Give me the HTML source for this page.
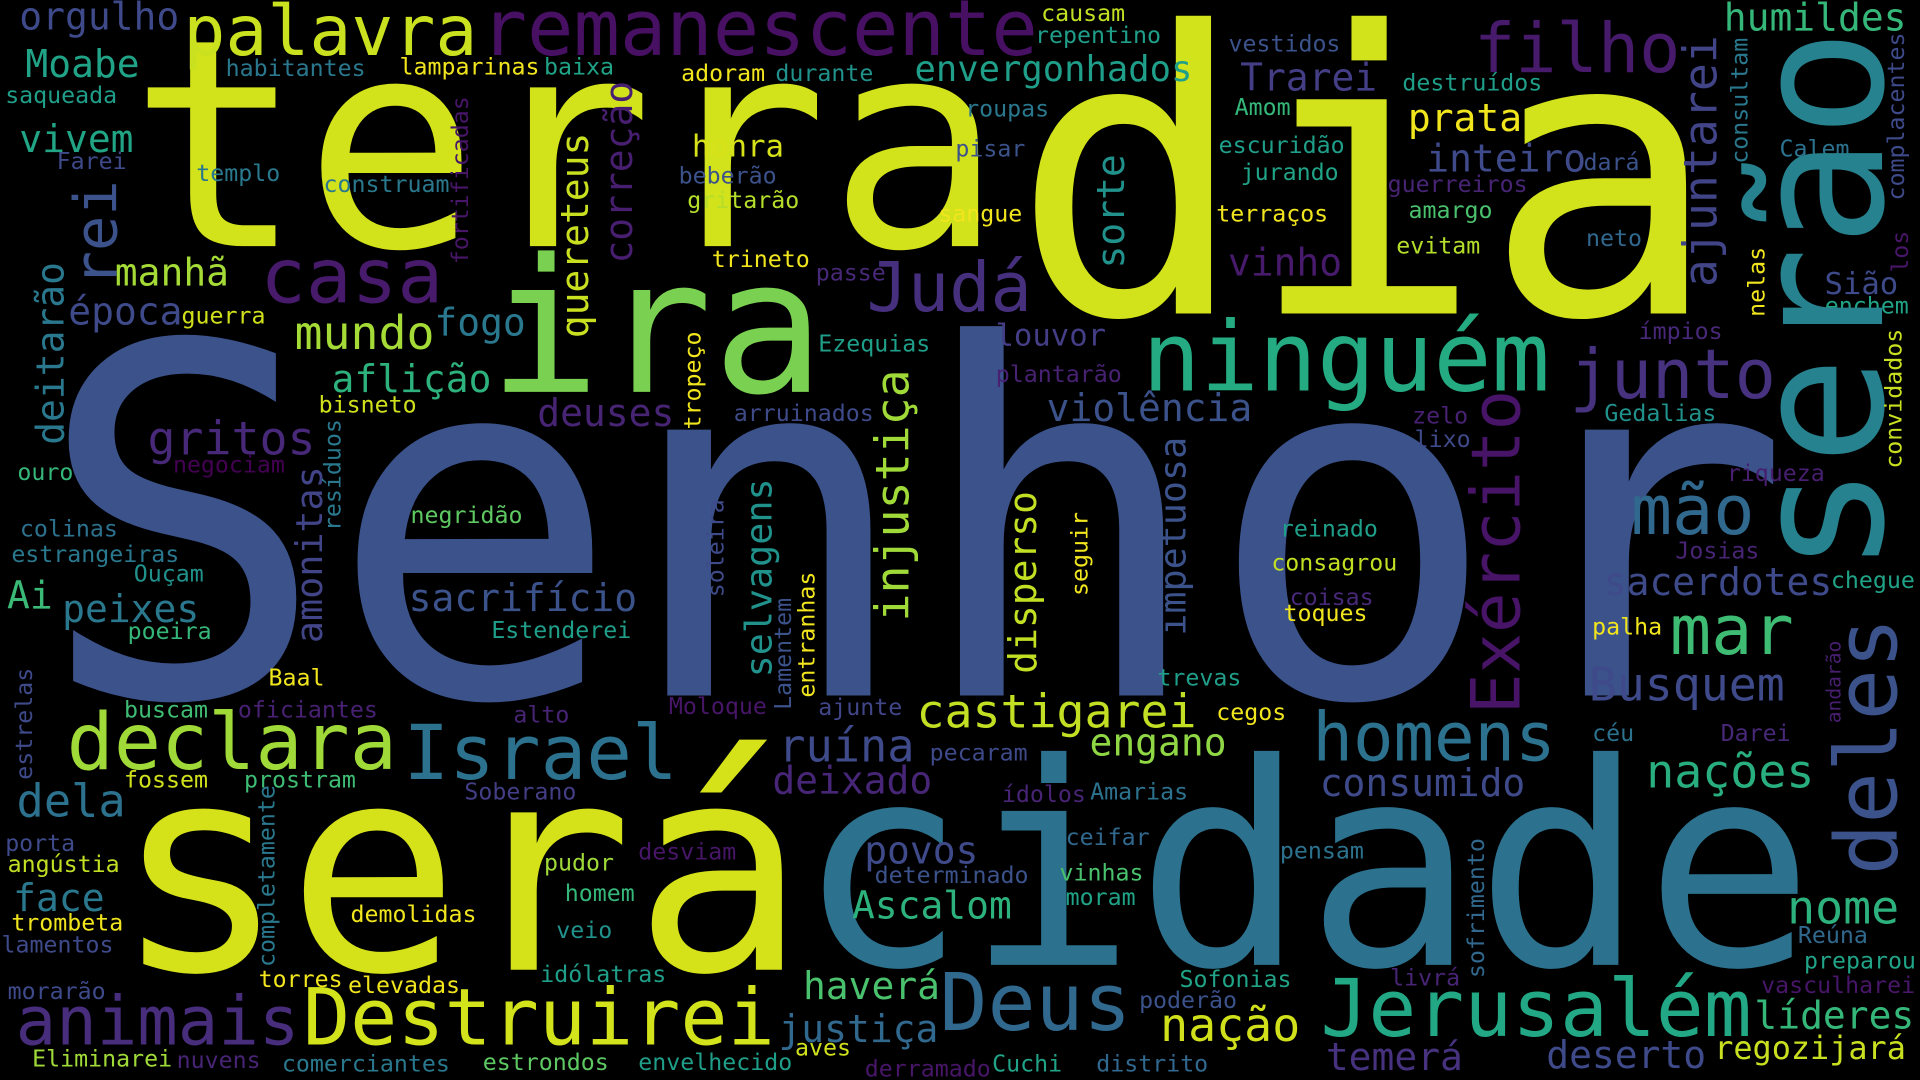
<!DOCTYPE html>
<html><head><meta charset="utf-8"><title>Word cloud</title>
<style>
html,body{margin:0;padding:0;background:#000;width:1920px;height:1080px;overflow:hidden}
svg{display:block}
text{font-family:"DejaVu Sans Mono","Liberation Mono",monospace;}
</style></head>
<body>
<svg id="cloud" width="1920" height="1080" viewBox="0 0 1568 882" preserveAspectRatio="none" xmlns="http://www.w3.org/2000/svg">
<rect width="1568" height="882" fill="#000"/>
</svg>
<script>
// [word, x, baseline, size, color]
const bigWords = [
["Senhor",45,568,397,"#3b528b"],["terra",115,201,237,"#d2e21b"],["dia",839,256,320,"#d2e21b"],
["será",102,792,235,"#d5e21a"],["cidade",660,788,230,"#2c728e"],["ira",405,320,152,"#7ad151"],
["ninguém",936,319,79,"#25ab82"],["Jerusalém",1081,846,65,"#22a884"],["Destruirei",250,853,64,"#d2e21b"],
["animais",15,853,55,"#472d7b"],["declara",57,628,64,"#a0da39"],["Israel",332,636,62,"#2c728e"],
["Deus",770,841,65,"#31688e"],["homens",1074,621,55,"#2c728e"],["junto",1284,325,56,"#46327e"],
["casa",215,247,62,"#481a6c"],["remanescente",395,45,63,"#471063"],["palavra",152,45,57,"#cae11f"],
["filho",1206,59,56,"#481a6c"],["Judá",710,254,56,"#46307e"],["mar",1366,534,56,"#3fbc73"],
["mão",1334,436,56,"#31688e"],["castigarei",750,594,38,"#c2df23"],["Busquem",1299,572,38,"#3e4a89"],
["sacerdotes",1311,486,31,"#3e4a89"],["sacrifício",335,499,31,"#3b528b"],["gritos",122,371,38,"#482878"],
["mundo",242,285,38,"#a5db36"],["fogo",356,274,31,"#2a788e"],["aflição",272,320,31,"#2db27d"],
["manhã",95,233,31,"#a5db36"],["época",57,265,31,"#3e4a89"],["deuses",440,348,31,"#482475"],
["violência",856,344,31,"#3b528b"],["louvor",814,282,25,"#433e85"],["honra",566,128,25,"#d8e219"],
["prata",1151,107,31,"#f1e51d"],["inteiro",1166,140,31,"#3e4a89"],["Trarei",1014,74,31,"#433e85"],
["vinho",1004,225,31,"#481a6c"],["humildes",1409,25,31,"#35b779"],["envergonhados",748,66,29,"#1f9e89"],
["Ascalom",697,750,31,"#2db27d"],["povos",707,705,31,"#3e4a89"],["engano",891,617,31,"#8fd744"],
["ruína",637,622,37,"#3e4a89"],["deixado",632,648,31,"#482677"],["consumido",1079,650,31,"#3f4a8a"],
["nações",1346,643,38,"#29af7f"],["nome",1461,754,38,"#2db27d"],["líderes",1434,840,31,"#35b779"],
["regozijará",1401,865,26,"#c8e020"],["deserto",1264,872,31,"#3e4a89"],["temerá",1084,874,31,"#46327e"],
["nação",949,850,38,"#d0e11c"],["justiça",637,851,31,"#31688e"],["haverá",657,816,31,"#4ac16d"],
["dela",15,667,37,"#2c728e"],["face",12,744,31,"#2a788e"],["peixes",52,508,31,"#2a788e"],
["Ai",7,497,31,"#3aba76"],["vivem",17,124,31,"#21a585"],["Moabe",22,63,31,"#20a386"],
["orgulho",17,24,31,"#3e4a89"],["negridão",336,427,19,"#5ec962"],["Sião",1491,240,25,"#3e4a89"]
];
// [word, x, baseline, color] size 19
const smallWords = [
["causam",851,17,"#c2df23"],["repentino",846,35,"#1f9e89"],["adoram",557,66,"#f1e51d"],["durante",634,66,"#21918c"],
["habitantes",185,62,"#2a788e"],["lamparinas",327,61,"#f1e51d"],["baixa",445,61,"#20a386"],["saqueada",5,84,"#1f9e89"],
["Farei",47,138,"#3e4a89"],["templo",161,148,"#2a788e"],["construam",265,157,"#2a788e"],["beberão",555,150,"#3b528b"],
["gritarão",562,170,"#b5de2b"],["roupas",789,95,"#2a788e"],["pisar",781,128,"#3b528b"],["sangue",767,181,"#f1e51d"],
["vestidos",1004,42,"#3b528b"],["destruídos",1146,74,"#1f9e89"],["Amom",1009,94,"#35b779"],["escuridão",996,125,"#1f9e89"],
["jurando",1014,147,"#20a386"],["guerreiros",1134,157,"#482475"],["dará",1294,139,"#3b528b"],["amargo",1151,178,"#4ac16d"],
["terraços",994,181,"#f1e51d"],["evitam",1141,207,"#b5de2b"],["neto",1296,201,"#31688e"],["Calem",1454,128,"#2c728e"],
["enchem",1491,256,"#20a386"],["ímpios",1339,277,"#482878"],["trineto",582,218,"#f1e51d"],["passe",667,229,"#482878"],
["Ezequias",669,287,"#1f9e89"],["guerra",149,264,"#d0e11c"],["bisneto",261,337,"#d0e11c"],["arruinados",600,344,"#3e4a89"],
["plantarão",814,312,"#482173"],["Gedalias",1311,344,"#21918c"],["zelo",1154,346,"#482173"],["lixo",1156,365,"#3e4a89"],
["riqueza",1411,393,"#481f70"],["negociam",142,386,"#440154"],["ouro",15,392,"#35b779"],["colinas",17,438,"#2c728e"],
["estrangeiras",10,459,"#2a788e"],["Ouçam",110,475,"#21918c"],["reinado",1046,438,"#1f9e89"],["Josias",1369,456,"#482475"],
["consagrou",1039,466,"#c2df23"],["chegue",1496,480,"#20a386"],["coisas",1054,494,"#482878"],["toques",1049,507,"#f1e51d"],
["poeira",105,522,"#35b779"],["Estenderei",402,521,"#1f9e89"],["palha",1301,518,"#f1e51d"],["Baal",220,560,"#f1e51d"],
["trevas",946,560,"#1f9e89"],["buscam",102,586,"#3fbc73"],["oficiantes",195,586,"#482173"],["alto",420,590,"#482475"],
["Moloque",547,583,"#481668"],["ajunte",669,584,"#404688"],["cegos",994,588,"#f1e51d"],["céu",1301,605,"#2c728e"],
["Darei",1406,605,"#482878"],["pecaram",760,621,"#3e4a89"],["fossem",102,643,"#d0e11c"],["prostram",200,643,"#3fbc73"],
["Soberano",380,653,"#433e85"],["ídolos",819,655,"#482475"],["Amarias",891,653,"#2c728e"],["ceifar",871,690,"#31688e"],
["porta",5,695,"#3e4a89"],["pensam",1046,701,"#2c728e"],["desviam",522,702,"#481668"],["angústia",7,712,"#c2df23"],
["pudor",445,711,"#a0da39"],["determinado",715,721,"#3b528b"],["vinhas",866,719,"#4ac16d"],["homem",462,736,"#35b779"],
["moram",871,739,"#20a386"],["demolidas",287,753,"#f1e51d"],["trombeta",10,760,"#f1e51d"],["veio",455,766,"#21918c"],
["Reúna",1469,770,"#31688e"],["lamentos",2,778,"#3e4a89"],["preparou",1474,791,"#20a386"],["idólatras",442,802,"#1f9e89"],
["livrá",1136,805,"#482475"],["torres",212,806,"#f1e51d"],["Sofonias",964,806,"#20a386"],["elevadas",285,811,"#f1e51d"],
["vasculharei",1439,811,"#481668"],["morarão",7,816,"#3e4a89"],["poderão",931,823,"#3b528b"],["aves",650,862,"#d0e11c"],
["Eliminarei",27,871,"#a0da39"],["nuvens",145,872,"#482475"],["comerciantes",231,875,"#2a788e"],["estrondos",395,874,"#5ec962"],
["envelhecido",522,874,"#1f9e89"],["derramado",707,879,"#481668"],["Cuchi",811,875,"#20a386"],["distrito",896,875,"#31688e"]
];
// [word, baselineX, startY(bottom), size, color] rotated -90
const verticalWords = [
["serão",1537,463,148,"#26828e"],["Exército",1241,581,55,"#481467"],["deles",1549,712,70,"#3b528b"],
["rei",95,232,48,"#3b528b"],["injustiça",742,506,38,"#a0da39"],["impetuosa",968,518,30,"#3b528b"],
["disperso",846,549,31,"#c2df23"],["selvagens",630,552,30,"#21918c"],["amonitas",263,524,30,"#414487"],
["deitarão",52,362,31,"#2a788e"],["sorte",918,218,31,"#21918c"],["quereteus",480,275,31,"#c8e020"],
["correção",516,214,31,"#481f70"],["ajuntarei",1402,233,38,"#414487"],["consultam",1427,133,19,"#2a788e"],
["complacentes",1555,163,19,"#3e4a89"],["los",1558,222,19,"#481668"],["nelas",1441,258,19,"#f1e51d"],
["convidados",1553,382,19,"#c8e020"],["fortificadas",382,215,19,"#481668"],["tropeço",572,350,19,"#f1e51d"],
["resíduos",278,433,19,"#2a788e"],["soleira",591,487,19,"#3e4a89"],["Lamentem",646,579,19,"#3b528b"],
["entranhas",665,569,19,"#f1e51d"],["seguir",888,486,19,"#f1e51d"],["estrelas",26,636,19,"#3e4a89"],
["completamente",224,789,19,"#2a788e"],["sofrimento",1212,798,19,"#31688e"],["andarão",1503,590,16,"#481f70"]
];
const SMALL = 19;
const svg = document.getElementById('cloud');
const NS = 'http://www.w3.org/2000/svg';
function slug(w){return 'word-' + w.toLowerCase().normalize('NFD').replace(/[\u0300-\u036f]/g,'').replace(/[^a-z0-9]+/g,'-');}
function addWord(w, x, y, size, color, rotated){
  const t = document.createElementNS(NS,'text');
  
  
  t.setAttribute('font-size', size);
  t.setAttribute('fill', color);
  if (rotated){
    t.setAttribute('transform','translate(' + x + ',' + (y + size*0.04) + ') rotate(-90)');
    t.setAttribute('x', 0); t.setAttribute('y', 0);
  } else {
    t.setAttribute('x', x - size*0.04);
    t.setAttribute('y', y);
  }
  t.textContent = w;
  svg.appendChild(t);
}
bigWords.forEach(d => addWord(d[0], d[1], d[2], d[3], d[4], false));
smallWords.forEach(d => addWord(d[0], d[1], d[2], SMALL, d[3], false));
verticalWords.forEach(d => addWord(d[0], d[1], d[2], d[3], d[4], true));
</script>
</body></html>
